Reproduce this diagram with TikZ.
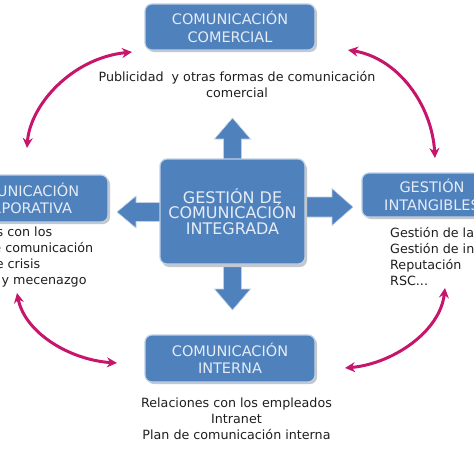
\documentclass[tikz,border=0pt]{standalone}
\usepackage{fontspec}
\setmainfont{DejaVu Sans}
\usetikzlibrary{arrows.meta}
\definecolor{boxblue}{RGB}{79,129,189}
\definecolor{boxedge}{RGB}{190,208,230}
\definecolor{boxtext}{RGB}{228,236,246}
\definecolor{pinkarr}{RGB}{198,22,108}
\definecolor{txt}{RGB}{30,30,30}
\tikzset{
  bluebox/.style={draw=boxedge, line width=1.2pt, fill=boxblue, rounded corners=7pt,
    text=boxtext, align=center, font=\fontsize{14.5}{17.5}\selectfont, inner sep=0pt},
  desc/.style={text=txt, font=\fontsize{12.7}{16}\selectfont, inner sep=0pt},
  blockarrow/.style={fill=boxblue, draw=boxedge, line width=0.6pt},
  shade box/.style={fill=black!22, rounded corners=7pt, draw=none},
  pinkline/.style={draw=pinkarr, line width=3pt,
    {Stealth[length=10pt,width=10pt]}-{Stealth[length=10pt,width=10pt]}}
}
\begin{document}
\begin{tikzpicture}[x=1pt,y=-1pt]
\useasboundingbox (0,0) rectangle (474,474);
\clip (0,0) rectangle (474,474);

% block arrows from the centre
\draw[blockarrow] (223.5,170) -- (223.5,139) -- (214.5,139) -- (232.5,118) -- (250.5,139) -- (241.5,139) -- (241.5,170) -- cycle;
\draw[blockarrow] (223.5,255) -- (223.5,289) -- (214.5,289) -- (232.5,310) -- (250.5,289) -- (241.5,289) -- (241.5,255) -- cycle;
\draw[blockarrow] (170,202.5) -- (136,202.5) -- (136,196) -- (117,212) -- (136,228) -- (136,221.5) -- (170,221.5) -- cycle;
\draw[blockarrow] (295,197) -- (332,197) -- (332,188.5) -- (353,207) -- (332,225.5) -- (332,217) -- (295,217) -- cycle;

% shadows
\fill[shade box] (147,6) rectangle (317,52);
\fill[shade box] (162,162) rectangle (307,267);
\fill[shade box] (147,337) rectangle (317,384);
\fill[shade box] (-64,177) rectangle (110,224);
\fill[shade box] (364,175) rectangle (504,219);

% boxes
\node[bluebox, minimum width=170pt, minimum height=46pt] (com) at (230,27) {COMUNICACIÓN\\COMERCIAL};
\node[bluebox, minimum width=145pt, minimum height=105pt, font=\fontsize{16}{15.5}\selectfont] (gci) at (232.5,211.5) {GESTIÓN DE\\COMUNICACIÓN\\INTEGRADA};
\node[bluebox, minimum width=170pt, minimum height=47pt] (int) at (230,358.5) {COMUNICACIÓN\\INTERNA};
\node[bluebox, minimum width=174pt, minimum height=47pt] (cor) at (21,198.5) {COMUNICACIÓN\\CORPORATIVA};
\node[bluebox, minimum width=140pt, minimum height=44pt] (gin) at (432,195) {GESTIÓN\\INTANGIBLES};

% descriptions
\node[desc, align=center] (dcom) at (237,85) {Publicidad\ \ y otras formas de comunicación\\comercial};
\node[desc, align=center] (dint) at (236.5,419) {Relaciones con los empleados\\Intranet\\Plan de comunicación interna};
\node[desc, align=left, anchor=west] (dcor) at (-65,257) {Relaciones con los\\medios de comunicación\\Gestión de crisis\\Patrocinio y mecenazgo};
\node[desc, align=left, anchor=west] (dgin) at (390,257) {Gestión de la marca\\Gestión de intangibles\\Reputación\\RSC...};

% pink connectors
\coordinate (a1) at (27,148);  \coordinate (a2) at (132,52);
\coordinate (b1) at (348,50);  \coordinate (b2) at (435,158);
\coordinate (c1) at (17,293);  \coordinate (c2) at (117,363);
\coordinate (d1) at (445,288); \coordinate (d2) at (345,368);
\draw[pinkline] (a1) .. controls (30,105) and (72,58) .. (a2);
\draw[pinkline] (b1) .. controls (398,58) and (432,105) .. (b2);
\draw[pinkline] (c1) .. controls (25,333) and (70,360) .. (c2);
\draw[pinkline] (d1) .. controls (440,332) and (392,364) .. (d2);
\end{tikzpicture}
\end{document}
